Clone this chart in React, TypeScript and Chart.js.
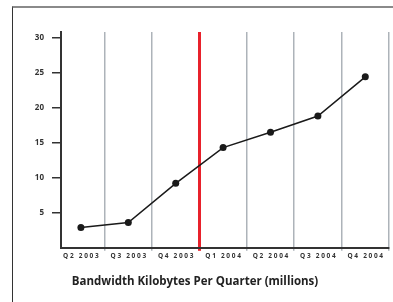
import React, { useEffect, useRef } from 'react';
import { Chart, registerables } from 'chart.js';

Chart.register(...registerables);

const categories = ['Q2 2003', 'Q3 2003', 'Q4 2003', 'Q1 2004', 'Q2 2004', 'Q3 2004', 'Q4 2004'];
const bandwidth = [2.9, 3.6, 9.2, 14.3, 16.5, 18.8, 24.4];
const yTickValues = [5, 10, 15, 20, 25, 30];
const yMin = 0;
const yMax = 30.8;
const xMin = -0.42;
const xMax = 6.5;
const markerBoundaryIndex = 2; // boundary between Q4 2003 and Q1 2004 (value 2.5)
const chartTitle = 'Bandwidth Kilobytes Per Quarter (millions)';

const spaced = (s: string) => s.split(' ').map((w) => w.split('').join(' ')).join('   ');

export default function App() {
  const canvasRef = useRef<HTMLCanvasElement | null>(null);

  useEffect(() => {
    if (!canvasRef.current) return;
    const points = bandwidth.map((v, i) => ({ x: i, y: v }));
    const boundaries = categories.map((_, i) => i + 0.5);
    const chart = new Chart(canvasRef.current, {
      type: 'line',
      data: {
        datasets: [
          {
            data: points,
            xAxisID: 'x',
            yAxisID: 'y',
            borderColor: '#1a1a1a',
            borderWidth: 1.5,
            pointRadius: 3.5,
            pointBackgroundColor: '#1a1a1a',
            pointBorderWidth: 0,
            tension: 0,
          },
        ],
      },
      options: {
        animation: false,
        responsive: false,
        layout: { padding: { left: 0, right: 3, top: 32, bottom: 0 } },
        plugins: {
          legend: { display: false },
          tooltip: { enabled: false },
          title: {
            display: true,
            text: chartTitle,
            position: 'bottom',
            color: '#222',
            font: { family: '"Open Sans"', size: 11.5, weight: 'bold' },
            padding: { top: 13, bottom: 13.4 },
          },
        },
        scales: {
          x: {
            type: 'linear',
            position: 'bottom',
            weight: 0,
            min: xMin,
            max: xMax,
            afterBuildTicks: (s: any) => {
              s.ticks = boundaries.map((v) => ({ value: v }));
            },
            grid: {
              drawOnChartArea: true,
              drawTicks: true,
              tickLength: 3,
              color: (c: any) => (c.index === markerBoundaryIndex ? '#e8212b' : '#adb3b9'),
              lineWidth: (c: any) => (c.index === markerBoundaryIndex ? 3 : 1.5),
            },
            border: { display: true, color: '#333', width: 2 },
            ticks: { display: false },
            afterFit: (s: any) => {
              s.height = 3;
            },
          },
          x2: {
            type: 'linear',
            position: 'bottom',
            weight: 1,
            min: xMin,
            max: xMax,
            afterBuildTicks: (s: any) => {
              s.ticks = categories.map((_, i) => ({ value: i }));
            },
            grid: { display: false, drawTicks: false },
            border: { display: false },
            ticks: {
              autoSkip: false,
              maxRotation: 0,
              padding: 1,
              color: '#333',
              font: { family: '"Open Sans"', size: 6.5, weight: 'bold' },
              callback: (_v: any, i: number) => spaced(categories[i]),
            },
            afterFit: (s: any) => {
              s.height = 11;
            },
          },
          y: {
            min: yMin,
            max: yMax,
            afterBuildTicks: (s: any) => {
              s.ticks = yTickValues.map((v) => ({ value: v }));
            },
            afterFit: (s: any) => {
              s.width = 61;
            },
            grid: { drawOnChartArea: false, drawTicks: true, tickLength: 9, color: '#333', lineWidth: 1.5 },
            border: { color: '#333', width: 2 },
            ticks: {
              padding: 8,
              color: '#333',
              font: { family: '"Open Sans"', size: 8, weight: 'bold' },
            },
          },
        },
      },
    } as any);
    return () => chart.destroy();
  }, []);

  return (
    <div style={{ position: 'absolute', left: 0, top: 0, width: 393, height: 302, background: '#fff', overflow: 'hidden' }}>
      <div
        style={{
          position: 'absolute',
          left: 12,
          top: 6,
          width: 393 - 12,
          height: 302 - 6,
          borderTop: '2px solid #8a8a8a',
          borderLeft: '1px solid #333',
          boxSizing: 'border-box',
        }}
      />
      <canvas ref={canvasRef} width={393} height={302} style={{ position: 'absolute', left: 0, top: 0 }} />
    </div>
  );
}
